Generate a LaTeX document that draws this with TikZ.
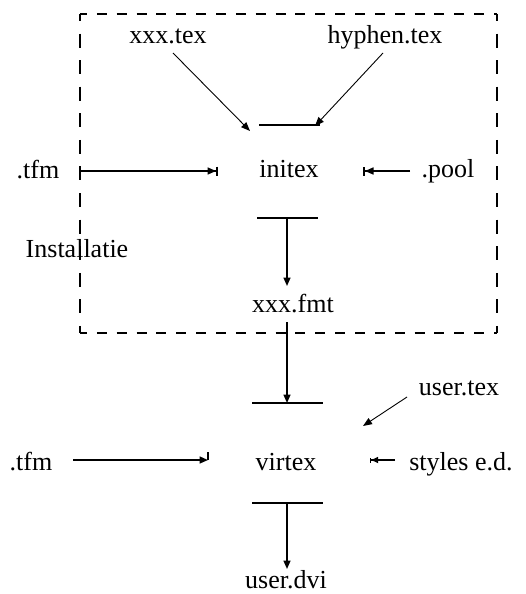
\documentclass[tikz,border=0pt]{standalone}
\usepackage{fontspec}
\setmainfont{Liberation Serif}
\usetikzlibrary{arrows.meta}
\begin{document}
\begin{tikzpicture}[x=1pt,y=-1pt,
  lbl/.style={anchor=base,inner sep=0pt,font=\fontsize{26}{30}\selectfont},
  conn/.style={line width=1.6pt,-{Triangle[length=8.5pt,width=7pt]}},
  connbar/.style={line width=1.6pt,-{Triangle[length=8.5pt,width=7pt]Bar[width=9pt,line width=2pt]}},
  connsbar/.style={line width=1.6pt,-{Triangle[length=7pt,width=6pt]Bar[width=5pt,line width=1.2pt]}},
  thinconn/.style={line width=0.9pt,-{Triangle[length=9pt,width=7pt]}},
  barline/.style={line width=2pt},
  hdash/.style={line width=2pt,dash pattern=on 10pt off 9.86pt,dash phase=3pt},
  vdash/.style={line width=2pt,dash pattern=on 14pt off 12.58pt,dash phase=7pt}
]
\useasboundingbox (0,0) rectangle (526,594);

% dashed installation box
\coordinate (boxtl) at (80,14);
\coordinate (boxtr) at (497,14);
\coordinate (boxbl) at (80,333);
\coordinate (boxbr) at (497,333);
\draw[hdash] (boxtl) -- (boxtr);
\draw[hdash] (boxbl) -- (boxbr);
\draw[vdash] (boxtl) -- (boxbl);
\draw[vdash] (boxtr) -- (boxbr);

% labels
\node[lbl] (xxxtex) at (168,44) {xxx.tex};
\node[lbl] (hyphen) at (385,44) {hyphen.tex};
\node[lbl] (initex) at (289,177) {initex};
\node[lbl] (pool) at (448,177) {.pool};
\node[lbl] (tfmA) at (38,178) {.tfm};
\node[lbl] (install) at (77,257) {Installatie};
\node[lbl] (fmt) at (293,312) {xxx.fmt};
\node[lbl] (usertex) at (459,395) {user.tex};
\node[lbl] (virtex) at (286,470) {virtex};
\node[lbl] (tfmB) at (31,470) {.tfm};
\node[lbl] (styles) at (461,470) {styles e.d.};
\node[lbl] (userdvi) at (286,588) {user.dvi};

% connector end points
\coordinate (xs) at (173,53);   \coordinate (xe) at (250,131);
\coordinate (hs) at (383,53);   \coordinate (he) at (315,126);
\coordinate (ibarL) at (259,125); \coordinate (ibarR) at (320,125);
\coordinate (ts) at (80,171);   \coordinate (te) at (218,171);
\coordinate (ps) at (410,171);  \coordinate (pe) at (363,171);
\coordinate (obarL) at (257,218); \coordinate (obarR) at (318,218);
\coordinate (os) at (287,218);  \coordinate (oe) at (287,286);
\coordinate (fs) at (287,322);  \coordinate (fe) at (287,403);
\coordinate (vbarL) at (252,403); \coordinate (vbarR) at (323,403);
\coordinate (us) at (407,397);  \coordinate (ue) at (363,426);
\coordinate (t2s) at (73,460);  \coordinate (t2e) at (208,460);
\coordinate (tick) at (208,452);
\coordinate (ss) at (395,460);  \coordinate (se) at (370,460);
\coordinate (wbarL) at (252,503); \coordinate (wbarR) at (323,503);
\coordinate (ws) at (287,503);  \coordinate (we) at (287,569);

% bars
\draw[barline] (ibarL) -- (ibarR);
\draw[barline] (obarL) -- (obarR);
\draw[barline] (vbarL) -- (vbarR);
\draw[barline] (wbarL) -- (wbarR);

% connectors
\draw[thinconn] (xs) -- (xe);
\draw[thinconn] (hs) -- (he);
\draw[connbar] (ts) -- (te);
\draw[connbar] (ps) -- (pe);
\draw[conn] (os) -- (oe);
\draw[conn] (fs) -- (fe);
\draw[thinconn] (us) -- (ue);
\draw[conn] (t2s) -- (t2e);
\draw[line width=1.4pt] (tick) -- (t2e);
\draw[connsbar] (ss) -- (se);
\draw[conn] (ws) -- (we);
\end{tikzpicture}
\end{document}
